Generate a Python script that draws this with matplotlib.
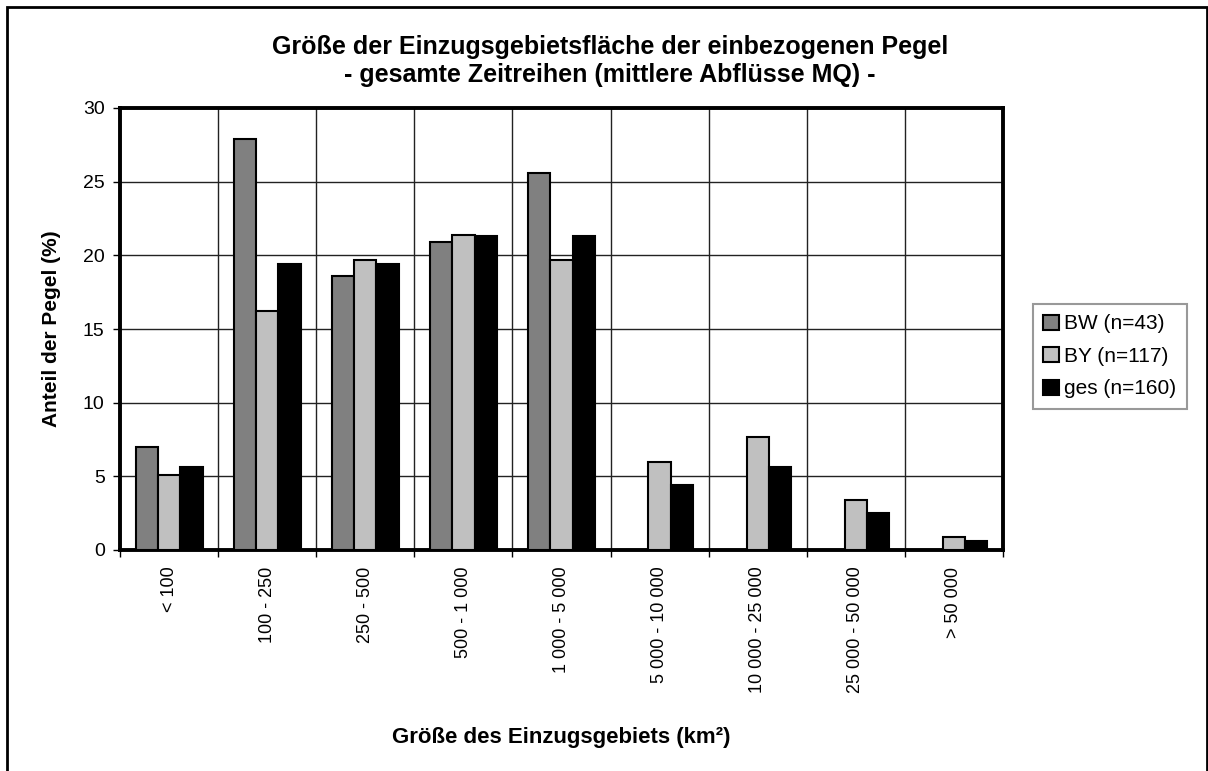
import matplotlib.pyplot as plt
import matplotlib.patches as mpatches
import numpy as np

plt.rcParams['font.family'] = ['Liberation Sans', 'DejaVu Sans']

# Kategorien und Werte (Anteil der Pegel in %)
categories = ['< 100', '100 - 250', '250 - 500', '500 - 1 000', '1 000 - 5 000',
              '5 000 - 10 000', '10 000 - 25 000', '25 000 - 50 000', '> 50 000']
bw = [7.0, 27.9, 18.6, 20.9, 25.6, 0, 0, 0, 0]
by = [5.1, 16.2, 19.7, 21.4, 19.7, 6.0, 7.7, 3.4, 0.9]
ges = [5.6, 19.4, 19.4, 21.3, 21.3, 4.4, 5.6, 2.5, 0.6]
series_labels = ['BW (n=43)', 'BY (n=117)', 'ges (n=160)']
series_colors = ['#808080', '#c0c0c0', '#000000']

fig = plt.figure(figsize=(12.08, 7.71), dpi=100)
ax = fig.add_axes([120 / 1208, 1 - 550 / 771, 883 / 1208, 442 / 771])

x = np.arange(len(categories))
w = 0.228
for i, (vals, col, lab) in enumerate(zip([bw, by, ges], series_colors, series_labels)):
    ax.bar(x + (i - 1) * w, vals, width=w, color=col, edgecolor='black',
           linewidth=1.5, label=lab, zorder=3)

ax.set_xlim(-0.5, len(categories) - 0.5)
ax.set_ylim(0, 30)
ax.set_yticks(range(0, 31, 5))
ax.tick_params(axis='y', labelsize=14, direction='out', length=5, width=1, pad=6)

# Kategoriegrenzen als Ticks / Gitterlinien
ax.set_xticks(np.arange(len(categories) + 1) - 0.5, minor=False)
ax.set_xticklabels([])
ax.tick_params(axis='x', direction='out', length=5, width=1)
ax.set_xticks(x, minor=True)
ax.set_xticklabels(categories, minor=True, rotation=90, fontsize=13)
ax.tick_params(axis='x', which='minor', length=0, pad=12)

ax.grid(True, which='major', color='#222222', linewidth=1.0, zorder=0)
for s in ax.spines.values():
    s.set_linewidth(2.8)

ax.set_ylabel('Anteil der Pegel (%)', fontsize=15, fontweight='bold', labelpad=16)
ax.set_xlabel('Größe des Einzugsgebiets (km²)', fontsize=16, fontweight='bold', labelpad=24)

fig.text(0.505, 1 - 47 / 771, 'Größe der Einzugsgebietsfläche der einbezogenen Pegel',
         ha='center', va='center', fontsize=18, fontweight='bold')
fig.text(0.505, 1 - 75 / 771, '- gesamte Zeitreihen (mittlere Abflüsse MQ) -',
         ha='center', va='center', fontsize=18, fontweight='bold')

leg = ax.legend(loc='upper left', bbox_to_anchor=(1033 / 1208, 1 - 304 / 771),
                bbox_transform=fig.transFigure, fontsize=15, frameon=True,
                fancybox=False, handlelength=0.75, handleheight=0.75,
                handletextpad=0.25, borderpad=0.5, labelspacing=0.65,
                borderaxespad=0)
leg.get_frame().set_edgecolor('#808080')
leg.get_frame().set_linewidth(1.5)

# Rahmen um die gesamte Grafik
fig.patches.append(mpatches.Rectangle((7 / 1208, -0.01), 1200 / 1208, 1 - 7 / 771 + 0.01,
                                      transform=fig.transFigure, fill=False,
                                      edgecolor='black', linewidth=2))

fig.savefig('out.png', dpi=100)
